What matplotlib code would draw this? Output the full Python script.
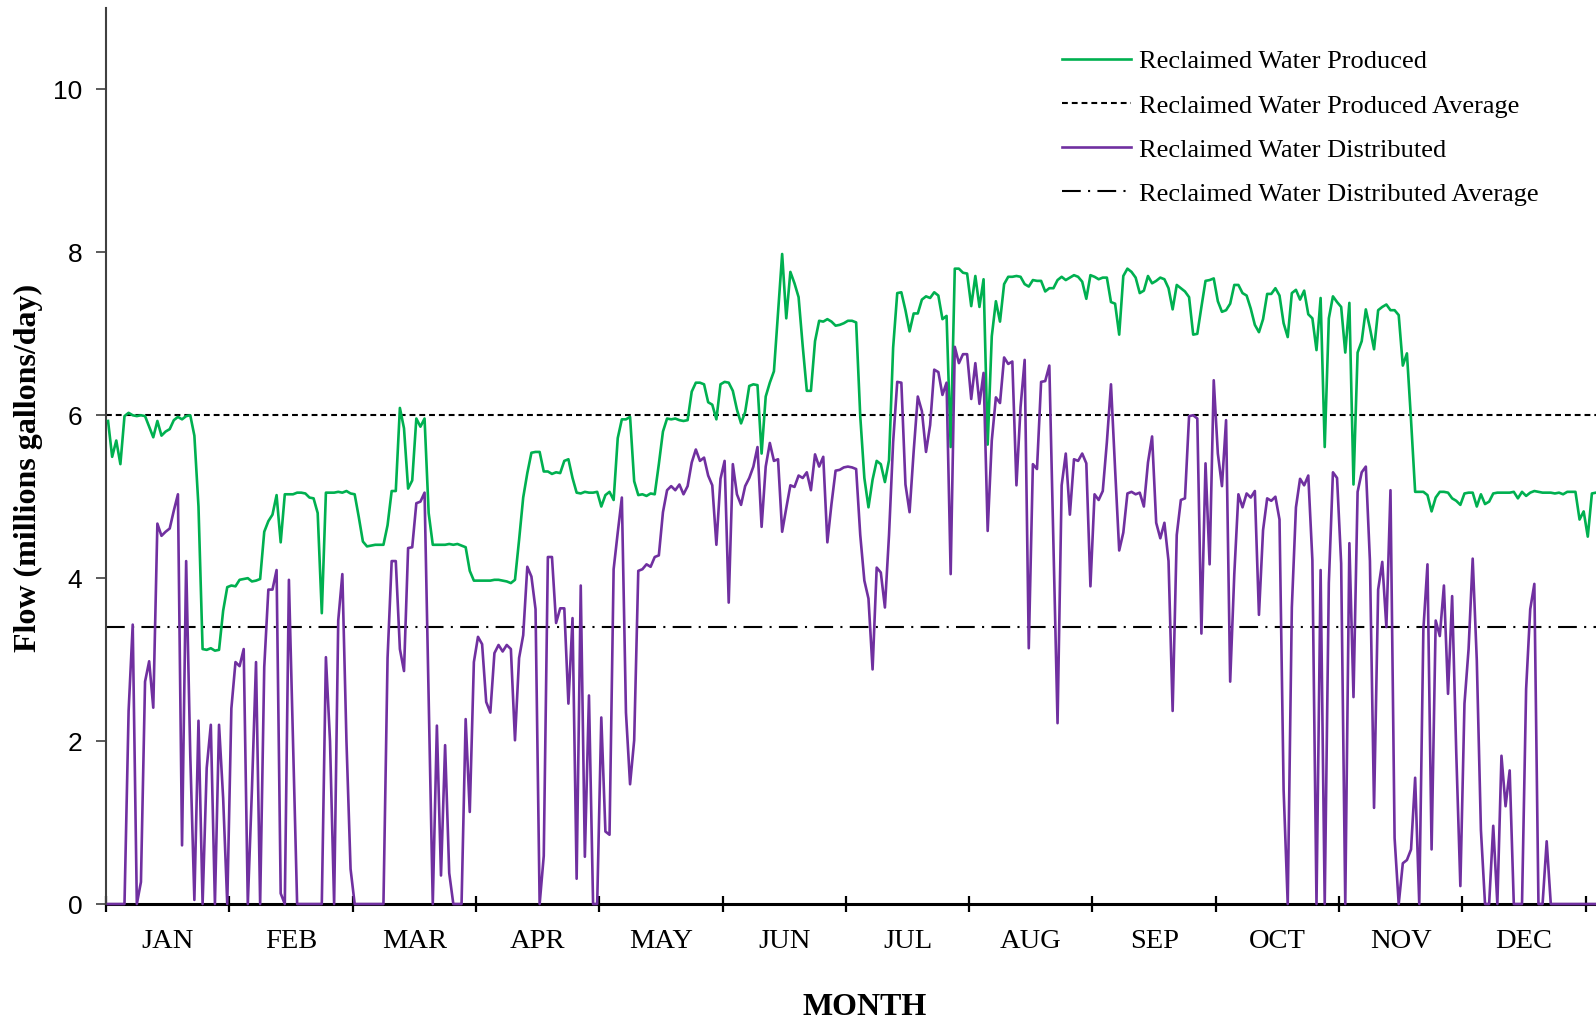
import numpy as np
import matplotlib
matplotlib.use("Agg")
import matplotlib.pyplot as plt

months = ["JAN", "FEB", "MAR", "APR", "MAY", "JUN",
          "JUL", "AUG", "SEP", "OCT", "NOV", "DEC"]

# daily flow, millions of gallons per day (day 1..365)
produced = [
    5.93, 5.49, 5.69, 5.40, 5.99, 6.03, 6.00, 5.99, 6.00, 5.99,
    5.86, 5.73, 5.93, 5.75, 5.80, 5.83, 5.94, 5.98, 5.95, 5.99,
    6.00, 5.75, 4.88, 3.13, 3.12, 3.14, 3.11, 3.12, 3.60, 3.89,
    3.91, 3.90, 3.98, 3.99, 4.00, 3.96, 3.97, 3.99, 4.57, 4.70,
    4.78, 5.02, 4.44, 5.03, 5.03, 5.03, 5.05, 5.05, 5.04, 4.99,
    4.98, 4.80, 3.57, 5.05, 5.05, 5.05, 5.06, 5.05, 5.07, 5.04,
    5.03, 4.75, 4.45, 4.39, 4.40, 4.41, 4.41, 4.41, 4.65, 5.07,
    5.07, 6.09, 5.84, 5.10, 5.20, 5.96, 5.86, 5.96, 4.80, 4.41,
    4.41, 4.41, 4.41, 4.42, 4.41, 4.42, 4.40, 4.38, 4.09, 3.97,
    3.97, 3.97, 3.97, 3.97, 3.98, 3.98, 3.97, 3.96, 3.94, 3.98,
    4.47, 4.99, 5.29, 5.54, 5.55, 5.55, 5.31, 5.31, 5.28, 5.30,
    5.29, 5.44, 5.46, 5.23, 5.05, 5.04, 5.06, 5.05, 5.05, 5.06,
    4.88, 5.02, 5.06, 4.96, 5.72, 5.95, 5.95, 5.98, 5.19, 5.02,
    5.03, 5.01, 5.04, 5.03, 5.40, 5.80, 5.96, 5.95, 5.96, 5.94,
    5.93, 5.94, 6.29, 6.40, 6.40, 6.38, 6.16, 6.13, 5.95, 6.38,
    6.41, 6.40, 6.30, 6.07, 5.90, 6.04, 6.36, 6.38, 6.37, 5.53,
    6.23, 6.40, 6.54, 7.26, 7.98, 7.19, 7.76, 7.62, 7.45, 6.85,
    6.30, 6.30, 6.91, 7.16, 7.15, 7.18, 7.15, 7.10, 7.11, 7.13,
    7.16, 7.16, 7.14, 5.99, 5.23, 4.87, 5.21, 5.44, 5.40, 5.18,
    5.45, 6.83, 7.50, 7.51, 7.29, 7.03, 7.25, 7.25, 7.42, 7.46,
    7.44, 7.51, 7.47, 7.18, 7.22, 5.61, 7.80, 7.80, 7.75, 7.74,
    7.34, 7.71, 7.33, 7.67, 5.64, 6.97, 7.40, 7.15, 7.61, 7.70,
    7.70, 7.71, 7.70, 7.61, 7.58, 7.66, 7.65, 7.65, 7.52, 7.56,
    7.56, 7.66, 7.70, 7.66, 7.69, 7.72, 7.70, 7.64, 7.43, 7.72,
    7.70, 7.67, 7.69, 7.69, 7.39, 7.37, 6.99, 7.71, 7.80, 7.76,
    7.69, 7.50, 7.53, 7.71, 7.62, 7.65, 7.69, 7.67, 7.56, 7.30,
    7.60, 7.56, 7.52, 7.45, 6.99, 7.00, 7.33, 7.65, 7.66, 7.68,
    7.40, 7.27, 7.29, 7.37, 7.60, 7.60, 7.50, 7.47, 7.31, 7.11,
    7.02, 7.18, 7.49, 7.49, 7.56, 7.47, 7.13, 6.96, 7.50, 7.54,
    7.42, 7.53, 7.24, 7.19, 6.80, 7.44, 5.61, 7.19, 7.46, 7.39,
    7.33, 6.77, 7.38, 5.15, 6.77, 6.91, 7.30, 7.07, 6.81, 7.29,
    7.33, 7.36, 7.29, 7.29, 7.23, 6.61, 6.76, 5.94, 5.06, 5.06,
    5.06, 5.02, 4.82, 4.99, 5.06, 5.06, 5.05, 4.98, 4.95, 4.90,
    5.04, 5.05, 5.05, 4.88, 5.03, 4.91, 4.94, 5.04, 5.05, 5.05,
    5.05, 5.05, 5.06, 4.98, 5.06, 5.01, 5.05, 5.07, 5.06, 5.05,
    5.05, 5.05, 5.04, 5.05, 5.03, 5.06, 5.06, 5.06, 4.72, 4.82,
    4.51, 5.04, 5.05, 5.05, 5.05,
]

distributed = [
    0, 0, 0, 0, 0, 2.37, 3.43, 0, 0.27, 2.73,
    2.98, 2.41, 4.67, 4.52, 4.57, 4.61, 4.83, 5.03, 0.72, 4.21,
    1.83, 0.05, 2.25, 0, 1.67, 2.20, 0, 2.20, 1.30, 0,
    2.40, 2.97, 2.92, 3.13, 0, 1.40, 2.97, 0, 2.91, 3.86,
    3.86, 4.10, 0.13, 0, 3.98, 2.00, 0, 0, 0, 0,
    0, 0, 0, 3.03, 2.00, 0, 3.48, 4.05, 2.00, 0.43,
    0, 0, 0, 0, 0, 0, 0, 0, 3.02, 4.21,
    4.21, 3.13, 2.86, 4.37, 4.38, 4.92, 4.94, 5.05, 2.50, 0,
    2.19, 0.35, 1.95, 0.38, 0, 0, 0, 2.27, 1.13, 2.97,
    3.28, 3.19, 2.48, 2.35, 3.08, 3.18, 3.10, 3.18, 3.13, 2.01,
    3.02, 3.30, 4.14, 4.02, 3.62, 0, 0.59, 4.26, 4.26, 3.45,
    3.63, 3.63, 2.46, 3.51, 0.31, 3.91, 0.58, 2.56, 0, 0,
    2.29, 0.89, 0.85, 4.11, 4.56, 4.99, 2.35, 1.47, 2.01, 4.09,
    4.11, 4.17, 4.14, 4.26, 4.28, 4.81, 5.08, 5.13, 5.08, 5.15,
    5.03, 5.13, 5.42, 5.58, 5.44, 5.48, 5.26, 5.14, 4.41, 5.22,
    5.44, 3.70, 5.40, 5.03, 4.90, 5.13, 5.23, 5.37, 5.61, 4.63,
    5.37, 5.66, 5.44, 5.46, 4.57, 4.86, 5.14, 5.12, 5.26, 5.23,
    5.30, 5.08, 5.52, 5.37, 5.49, 4.44, 4.91, 5.32, 5.33, 5.36,
    5.37, 5.36, 5.34, 4.53, 3.97, 3.75, 2.88, 4.13, 4.07, 3.64,
    4.53, 5.67, 6.41, 6.40, 5.15, 4.81, 5.56, 6.23, 6.05, 5.55,
    5.88, 6.56, 6.53, 6.25, 6.40, 4.05, 6.84, 6.64, 6.75, 6.75,
    6.20, 6.64, 6.14, 6.52, 4.58, 5.69, 6.22, 6.15, 6.71, 6.63,
    6.66, 5.14, 6.10, 6.68, 3.14, 5.40, 5.34, 6.41, 6.42, 6.61,
    4.40, 2.22, 5.14, 5.53, 4.78, 5.46, 5.44, 5.53, 5.41, 3.90,
    5.03, 4.96, 5.07, 5.67, 6.38, 5.34, 4.34, 4.56, 5.04, 5.06,
    5.03, 5.05, 4.88, 5.42, 5.74, 4.68, 4.49, 4.68, 4.21, 2.37,
    4.53, 4.96, 4.98, 5.99, 6.00, 5.96, 3.32, 5.41, 4.17, 6.43,
    5.53, 5.13, 5.94, 2.73, 4.05, 5.03, 4.87, 5.04, 4.99, 5.07,
    3.55, 4.59, 4.98, 4.95, 5.00, 4.72, 1.40, 0, 3.64, 4.87,
    5.22, 5.14, 5.26, 4.22, 0, 4.10, 0, 3.94, 5.30, 5.23,
    4.18, 0, 4.43, 2.54, 5.06, 5.30, 5.37, 4.21, 1.18, 3.86,
    4.20, 3.40, 5.08, 0.81, 0, 0.50, 0.54, 0.67, 1.55, 0,
    3.37, 4.17, 0.67, 3.48, 3.29, 3.91, 2.58, 3.78, 1.86, 0.22,
    2.46, 3.13, 4.24, 2.99, 0.91, 0, 0, 0.96, 0, 1.82,
    1.20, 1.64, 0, 0, 0, 2.64, 3.62, 3.93, 0, 0,
    0.77, 0, 0, 0, 0, 0, 0, 0, 0, 0,
    0, 0, 0, 0, 0,
]

produced_avg = 6.0
distributed_avg = 3.4

serif = "Liberation Serif"
sans = "Liberation Sans"

days = np.arange(len(produced)) + 0.5

fig = plt.figure(figsize=(15.96, 10.21), dpi=100)
ax = fig.add_axes([106 / 1596, 117 / 1021, 1490 / 1596, 896 / 1021])

ax.plot(days, produced, color="#00B050", lw=1.9, clip_on=False, zorder=3,
        label="Reclaimed Water Produced")
ax.axhline(produced_avg, color="black", lw=1.5, ls=(0, (2.8, 1.9)), zorder=2,
           label="Reclaimed Water Produced Average")
ax.plot(days, distributed, color="#7030A0", lw=1.9, clip_on=False, zorder=4,
        label="Reclaimed Water Distributed")
ax.axhline(distributed_avg, color="black", lw=1.5, ls=(0, (9, 3.5, 1.0, 3.5)),
           zorder=2, label="Reclaimed Water Distributed Average")

ax.set_xlim(0, 362.5)
ax.set_ylim(0, 11)

# month boundaries as ticks, names centred in between
ax.set_xticks(np.arange(0, 361, 30))
ax.set_xticks(np.arange(15, 360, 30), minor=True)
ax.set_xticklabels(months, minor=True, fontfamily=serif, fontsize=20.5)
ax.tick_params(axis="x", which="major", direction="inout", length=12,
               width=1.6, labelbottom=False)
ax.tick_params(axis="x", which="minor", length=0, pad=18)

ax.set_yticks(np.arange(0, 11, 2))
ax.set_yticklabels([str(v) for v in range(0, 11, 2)], fontfamily=sans,
                   fontsize=19)
ax.tick_params(axis="y", direction="out", length=7, width=1.2, pad=10,
               color="#404040")

for s in ["top", "right"]:
    ax.spines[s].set_visible(False)
ax.spines["left"].set_color("#404040")
ax.spines["left"].set_linewidth(1.5)
ax.spines["bottom"].set_linewidth(2.2)
ax.spines["bottom"].set_zorder(1)

fig.text(28.5 / 1596, 0.5416, "Flow (millions gallons/day)", rotation=90,
         ha="center", va="center", fontfamily=serif, fontweight="bold",
         fontsize=23)
fig.text(865 / 1596, 0.006, "MONTH", ha="center", va="baseline",
         fontfamily=serif, fontweight="bold", fontsize=23)

ax.legend(loc="upper left", bbox_to_anchor=(1062 / 1596, 1 - 50 / 1021),
          bbox_transform=fig.transFigure, frameon=False,
          prop={"family": serif, "size": 19}, handlelength=2.6,
          handletextpad=0.3, labelspacing=0.78, borderpad=0,
          borderaxespad=0)

fig.savefig("out.png", dpi=100)
